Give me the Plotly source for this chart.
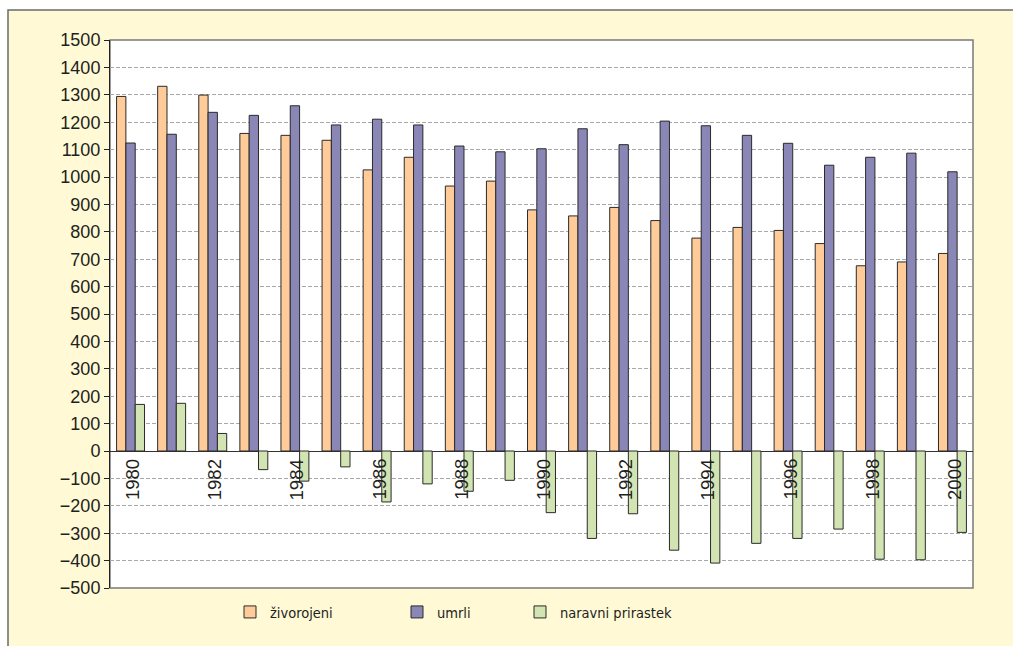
import plotly.graph_objects as go

# Population movement, 1980-2000
years = list(range(1980, 2001))
zivorojeni = [1294, 1331, 1299, 1159, 1152, 1134, 1026, 1072, 967, 985, 880,
              858, 889, 841, 777, 816, 805, 757, 676, 690, 721]
umrli = [1124, 1156, 1236, 1225, 1260, 1190, 1211, 1190, 1113, 1092, 1103,
         1176, 1118, 1204, 1187, 1152, 1123, 1043, 1072, 1087, 1019]
naravni_prirastek = [170, 174, 64, -68, -110, -58, -186, -120, -147, -107, -225,
                     -319, -229, -362, -409, -337, -319, -285, -395, -397, -297]
year_labels = [str(y) for y in years[::2]]
series_names = ["živorojeni", "umrli", "naravni prirastek"]

colors = ["#FFCC99", "#8A87B6", "#D1E4B2"]
cream = "#FFF9D6"
text_color = "#231F20"

W, H = 1013, 646
L, R, T, B = 110, 40, 40, 58
pw, ph = W - L - R, H - T - B


def px_x(p):
    return (p - L) / pw


def px_y(p):
    return (H - B - p) / ph


fig = go.Figure()
legend_ids = ["legend", "legend2", "legend3"]
for name, vals, col, lg in zip(series_names, [zivorojeni, umrli, naravni_prirastek],
                               colors, legend_ids):
    fig.add_trace(go.Bar(
        x=years, y=vals, name=name,
        marker=dict(color=col, line=dict(color="#2a2a2a", width=1)),
        legend=lg,
    ))

# year labels hang just below the zero line
annotations = []
for lab in year_labels:
    annotations.append(dict(
        x=int(lab), y=0, xref="x", yref="y", text=lab, textangle=-90,
        showarrow=False, xanchor="center", yanchor="top", yshift=-6, xshift=2,
        font=dict(size=18.5, color=text_color),
    ))

shapes = [
    # cream panel with dark frame
    dict(type="rect", xref="paper", yref="paper",
         x0=px_x(8), x1=px_x(W + 10), y0=px_y(H + 10), y1=px_y(10),
         fillcolor=cream, line=dict(color="#6b6b6b", width=1.5), layer="below"),
    # white plotting area
    dict(type="rect", xref="paper", yref="paper",
         x0=0, x1=1, y0=0, y1=1,
         fillcolor="white", line=dict(color="#7a7a7a", width=1.5), layer="below"),
]

legend_font = dict(family="Liberation Sans Narrow, DejaVu Sans Condensed, Arial Narrow, sans-serif",
                   size=14.5, color=text_color)
leg_common = dict(orientation="h", yanchor="middle", y=px_y(612), xanchor="left",
                  font=legend_font, bgcolor="rgba(0,0,0,0)", itemwidth=30)

fig.update_layout(
    width=W, height=H,
    margin=dict(l=L, r=R, t=T, b=B, pad=0),
    paper_bgcolor="white",
    plot_bgcolor="rgba(0,0,0,0)",
    font=dict(family="Liberation Sans, Arial, sans-serif", size=18, color=text_color),
    barmode="group", bargap=0.32, bargroupgap=0,
    showlegend=True,
    legend=dict(leg_common, x=px_x(230)),
    legend2=dict(leg_common, x=px_x(397)),
    legend3=dict(leg_common, x=px_x(520)),
    xaxis=dict(range=[1979.5, 2000.5], showticklabels=False, showgrid=False,
               zeroline=False, showline=False, ticks=""),
    yaxis=dict(range=[-500, 1500], dtick=100, tick0=0,
               showline=True, linecolor="#222", linewidth=1,
               ticks="outside", ticklen=5, tickcolor="#222",
               showgrid=True, gridcolor="#a8a8a8", griddash="4px,2px", gridwidth=1,
               zeroline=True, zerolinecolor="#333", zerolinewidth=1,
               tickfont=dict(size=18, color=text_color)),
    annotations=annotations,
    shapes=shapes,
)

fig.write_html("out.html")
